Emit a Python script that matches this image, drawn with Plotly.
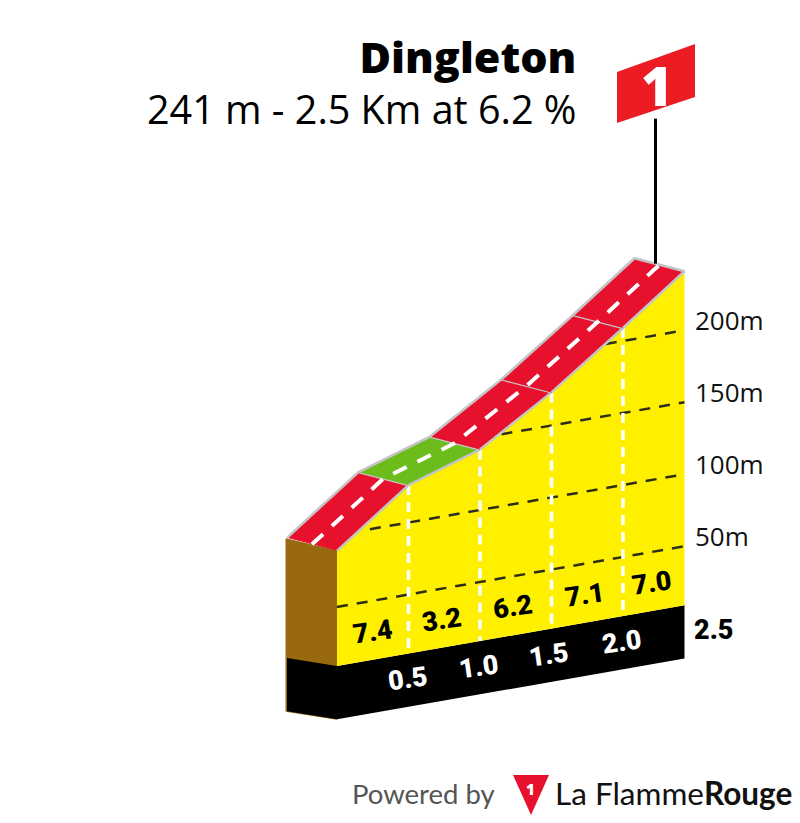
import plotly.graph_objects as go

# ---- data ----
KM = [0.0, 0.5, 1.0, 1.5, 2.0, 2.43]
ALT = [89, 126, 142, 173, 209, 241]
GRADES = ["7.4", "3.2", "6.2", "7.1", "7.0"]
KM_LABELS = ["0.5", "1.0", "1.5", "2.0"]
TOTAL_KM = "2.5"
GRID_ALT = [50, 100, 150, 200]
GRID_LABELS = ["50m", "100m", "150m", "200m"]
GRID_START_KM = [0.0, 0.23, 1.15, 1.88]
SEG_COLORS = ["#e8112d", "#6cbd1c", "#e8112d", "#e8112d", "#e8112d"]
GRADE_LABEL_KM = [0.245, 0.734, 1.23, 1.734, 2.2]
KM_LABEL_KM = [0.49, 0.986, 1.48, 1.99]
BASE_ALT = 9
BLACK_ALT = -28
GRADE_LABEL_ALT = 28.4
KM_LABEL_ALT = -8.7

W, H = 800, 823
PX_PER_KM = 143.0
PX_PER_M = 1.44
SKEW = 25.0 / PX_PER_M   # metres of apparent rise per km (oblique projection)
X0, Y0 = 337.0, 679.0


def pr(km, alt, d=0.0, rise=13.0, run=50.0):
    """Oblique projection into the (km, metres) plot axes."""
    return km - d * run / PX_PER_KM, alt + km * SKEW + d * rise / PX_PER_M


def poly(points, fill, line=None, width=0):
    xs = [p[0] for p in points]
    ys = [p[1] for p in points]
    return go.Scatter(x=xs, y=ys, mode="lines", fill="toself", fillcolor=fill,
                      line=dict(color=line or fill, width=width),
                      hoverinfo="skip", showlegend=False)


def stroke(points, color, width, dash="solid"):
    return go.Scatter(x=[p[0] for p in points], y=[p[1] for p in points], mode="lines",
                      line=dict(color=color, width=width, dash=dash),
                      hoverinfo="skip", showlegend=False)


fig = go.Figure()
k0, kn = KM[0], KM[-1]

# left end of the block
fig.add_trace(poly([pr(k0, ALT[0]), pr(k0, ALT[0], 1, 12, 51), pr(k0, BLACK_ALT, 1, 8, 51),
                    pr(k0, BLACK_ALT)], "#99690f", "#99690f", 1))
fig.add_trace(poly([pr(k0, BASE_ALT), pr(k0, BASE_ALT, 1, 8, 50), pr(k0, BLACK_ALT, 1, 8, 50),
                    pr(k0, BLACK_ALT)], "#000000"))
# black base band
fig.add_trace(poly([pr(k0, BASE_ALT), pr(kn, BASE_ALT), pr(kn, BLACK_ALT), pr(k0, BLACK_ALT)], "#000000"))
# yellow face
fig.add_trace(poly([pr(k, a) for k, a in zip(KM, ALT)] + [pr(kn, BASE_ALT), pr(k0, BASE_ALT)], "#fff000"))

# altitude grid
for g, s in zip(GRID_ALT, GRID_START_KM):
    fig.add_trace(stroke([pr(s, g), pr(kn, g)], "#2e2e16", 2.5, "11px,9px"))

# km verticals
for k, a in zip(KM[1:-1], ALT[1:-1]):
    fig.add_trace(stroke([pr(k, a), pr(k, BASE_ALT)], "#ffffff", 3.5, "10px,7px"))

# road segments
for i, col in enumerate(SEG_COLORS):
    fig.add_trace(poly([pr(KM[i], ALT[i]), pr(KM[i + 1], ALT[i + 1]),
                        pr(KM[i + 1], ALT[i + 1], 1), pr(KM[i], ALT[i], 1)], col, "#c4c4c4", 2.5))

# road centre line
fig.add_trace(stroke([pr(k, a, 0.5) for k, a in zip(KM, ALT)], "#ffffff", 4, "15px,12px"))

# flag pole
top = pr(kn, ALT[-1], 0.58)
fig.add_trace(stroke([top, (top[0], top[1] + 145 / PX_PER_M)], "#000000", 3))


def px(x):
    return x / W


def py(y):
    return 1 - y / H


def path(points):
    return "M " + " L ".join(f"{px(x):.5f},{py(y):.5f}" for x, y in points) + " Z"


shapes = [
    dict(type="path", xref="paper", yref="paper", line=dict(width=0), fillcolor="#ed1c24",
         path=path([(617, 72), (695, 44), (695, 97), (617, 123)])),
    dict(type="path", xref="paper", yref="paper", line=dict(width=0), fillcolor="#e8112d",
         path=path([(513, 775), (549, 775), (531, 815)])),
]


def note(text, x, y, size, family, color="#000000", anchor="center", weight=None, angle=0, ref="paper"):
    f = dict(size=size, family=family, color=color)
    if weight:
        f["weight"] = weight
    if ref == "paper":
        fig.add_annotation(text=text, xref="paper", yref="paper", x=px(x), y=py(y), xanchor=anchor,
                           yanchor="middle", showarrow=False, font=f, textangle=angle)
    else:
        fig.add_annotation(text=text, xref="x", yref="y", x=x, y=y, xanchor=anchor,
                           yanchor="middle", showarrow=False, font=f, textangle=angle)


NARROW = "Roboto"
fig.add_annotation(
    text="<span style='font-size:43px;font-weight:800'>Dingleton</span><br>241 m - 2.5 Km at 6.2 %",
    xref="paper", yref="paper", x=px(578), y=py(81), xanchor="right", yanchor="middle", align="right",
    showarrow=False, font=dict(size=39.5, family="Open Sans", color="#000000"))
note("1", 657, 85, 54, "Open Sans", color="#ffffff", weight=800)
note("1", 530, 789, 15, "Open Sans", color="#ffffff", weight=800)

for lab, k in zip(GRADES, GRADE_LABEL_KM):
    x, y = pr(k, GRADE_LABEL_ALT)
    note(lab, x, y, 27, NARROW, weight=900, angle=-8, ref="data")
for lab, k in zip(KM_LABELS, KM_LABEL_KM):
    x, y = pr(k, KM_LABEL_ALT)
    note(lab, x, y, 27, NARROW, color="#ffffff", weight=900, angle=-8, ref="data")

for lab, g in zip(GRID_LABELS, GRID_ALT):
    x, y = pr(kn, g)
    fig.add_annotation(text=lab, xref="x", yref="y", x=x, y=y, xanchor="left", yanchor="middle",
                       xshift=9, yshift=10, showarrow=False,
                       font=dict(size=26, family="Open Sans", color="#111111"))

x, y = pr(kn, BASE_ALT)
fig.add_annotation(text=TOTAL_KM, xref="x", yref="y", x=x, y=y, xanchor="left", yanchor="middle",
                   xshift=8, yshift=-25, showarrow=False,
                   font=dict(size=27, family=NARROW, color="#000000", weight=900))

note("Powered by", 350, 793, 27.5, "Lato", color="#555555", anchor="left")
note("La Flamme<b>Rouge</b>", 553, 793, 31.5, "Lato", color="#111111", anchor="left")

fig.update_layout(
    width=W, height=H, margin=dict(l=0, r=0, t=0, b=0),
    paper_bgcolor="#ffffff", plot_bgcolor="#ffffff", showlegend=False, shapes=shapes,
    xaxis=dict(visible=False, range=[-X0 / PX_PER_KM, (W - X0) / PX_PER_KM], fixedrange=True),
    yaxis=dict(visible=False, range=[(Y0 - H) / PX_PER_M, Y0 / PX_PER_M], fixedrange=True),
)
fig.write_html("out.html", config={"displayModeBar": False},
               post_script="document.body.style.margin='0';document.body.style.overflow='hidden';")
